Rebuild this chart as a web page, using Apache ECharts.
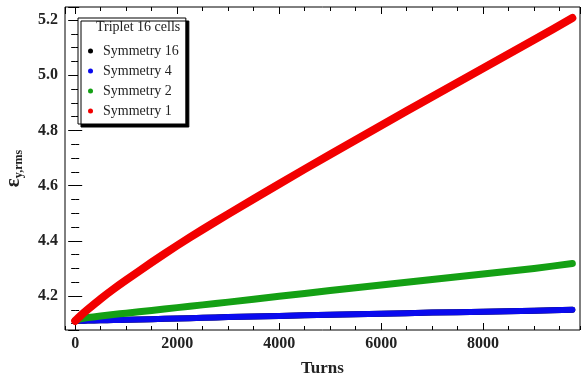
<!DOCTYPE html>
<html>
<head>
<meta charset="utf-8">
<script src="https://cdn.jsdelivr.net/npm/echarts@6/dist/echarts.min.js"></script>
<style>
  html, body { margin: 0; padding: 0; background: #fff; }
  #chart { width: 585px; height: 377px; }
</style>
</head>
<body>
<div id="chart"></div>
<script>
var turns = [0, 100, 250, 500, 750, 1000, 1500, 2000, 2500, 3000, 4000, 5000, 6000, 7000, 8000, 9000, 9750];
var sym16 = [4.11, 4.1105, 4.111, 4.112, 4.113, 4.114, 4.116, 4.119, 4.121, 4.124, 4.128, 4.132, 4.136, 4.14, 4.143, 4.147, 4.15];
var sym4 = [4.11, 4.1105, 4.111, 4.112, 4.113, 4.114, 4.116, 4.119, 4.121, 4.124, 4.128, 4.132, 4.136, 4.14, 4.143, 4.147, 4.15];
var sym2 = [4.11, 4.117, 4.122, 4.128, 4.133, 4.138, 4.148, 4.158, 4.168, 4.178, 4.199, 4.22, 4.24, 4.26, 4.28, 4.30, 4.318];
var sym1 = [4.11, 4.128, 4.152, 4.19, 4.225, 4.258, 4.322, 4.383, 4.441, 4.497, 4.606, 4.713, 4.818, 4.922, 5.025, 5.128, 5.207];
var names = ['Symmetry 16', 'Symmetry 4', 'Symmetry 2', 'Symmetry 1'];
var colors = ['#000000', '#0a0aee', '#14a014', '#f20000'];

function pairs(ys) {
  return turns.map(function (t, i) { return [t, ys[i]]; });
}

var chart = echarts.init(document.getElementById('chart'));
var serif = 'Liberation Serif';
var xMin = -200, xMax = 9900, yMin = 4.077, yMax = 5.247;
var gridPos = { left: 65, right: 5, top: 7, bottom: 47, outerBoundsMode: 'none' };

function xAx(grid, pos, major, labels) {
  return {
    type: 'value', gridIndex: grid, position: pos, min: xMin, max: xMax,
    splitNumber: major ? 5 : 20,
    axisLine: { show: false },
    axisTick: { inside: true, length: major ? 7 : 4, lineStyle: { color: '#000', width: 1 } },
    axisLabel: {
      show: labels, showMinLabel: false, showMaxLabel: false, margin: 6,
      fontFamily: serif, fontWeight: 'bold', fontSize: 16, color: '#222',
      formatter: function (v) { return String(v); }
    },
    splitLine: { show: false }
  };
}
function yAx(grid, pos, major, labels) {
  return {
    type: 'value', gridIndex: grid, position: pos, min: yMin, max: yMax,
    splitNumber: major ? 6 : 23,
    axisLine: { show: false },
    axisTick: { inside: true, length: major ? 7 : 4, lineStyle: { color: '#000', width: 1 } },
    axisLabel: {
      show: labels, showMinLabel: false, showMaxLabel: false, margin: 7,
      fontFamily: serif, fontWeight: 'bold', fontSize: 16, color: '#222',
      formatter: function (v) { return v.toFixed(1); }
    },
    splitLine: { show: false }
  };
}

var xAxes = [xAx(0, 'bottom', true, true), xAx(0, 'top', true, false), xAx(1, 'bottom', false, false), xAx(1, 'top', false, false)];
xAxes[0].name = 'Turns';
xAxes[0].nameLocation = 'middle';
xAxes[0].nameGap = 30;
xAxes[0].nameTextStyle = { fontFamily: serif, fontWeight: 'bold', fontSize: 17, color: '#222' };

var yAxes = [yAx(0, 'left', true, true), yAx(0, 'right', true, false), yAx(1, 'left', false, false), yAx(1, 'right', false, false)];
yAxes[0].name = '{e|ε}{s|y,rms}';
yAxes[0].nameLocation = 'middle';
yAxes[0].nameGap = 40;
yAxes[0].nameMoveOverlap = false;
yAxes[0].nameTextStyle = {
  padding: [0, 0, 0, 0],
  rich: {
    e: { fontFamily: serif, fontWeight: 'bold', fontSize: 21, color: '#222' },
    s: { fontFamily: serif, fontWeight: 'bold', fontSize: 12, color: '#222', padding: [10, 0, 0, 0] }
  }
};

var widths = [6, 6, 7, 8];
var series = names.map(function (n, i) {
  return {
    name: n, type: 'line', xAxisIndex: 0, yAxisIndex: 0,
    data: pairs([sym16, sym4, sym2, sym1][i]),
    smooth: 0.2, showSymbol: false, symbol: 'circle',
    color: colors[i],
    lineStyle: { width: widths[i], color: colors[i], cap: 'round', join: 'round' },
    silent: true, animation: false
  };
});

var option = {
  animation: false,
  grid: [
    Object.assign({ show: true, borderColor: '#000', borderWidth: 1, backgroundColor: 'transparent' }, gridPos),
    Object.assign({ show: false }, gridPos)
  ],
  xAxis: xAxes,
  yAxis: yAxes,
  legend: {
    data: names,
    orient: 'vertical',
    left: 78, top: 18,
    padding: [25, 7, 5, 10],
    itemGap: 4,
    itemWidth: 5, itemHeight: 5,
    icon: 'circle',
    backgroundColor: '#fff',
    borderColor: '#000', borderWidth: 1,
    shadowColor: '#000', shadowBlur: 0, shadowOffsetX: 3, shadowOffsetY: 3,
    selectedMode: false,
    textStyle: { fontFamily: serif, fontSize: 14, color: '#222', padding: [0, 0, 0, 5], lineHeight: 16 }
  },
  graphic: [{
    type: 'text', left: 96, top: 20, z: 100,
    style: { text: 'Triplet 16 cells', fontFamily: serif, fontSize: 14, fill: '#222' }
  }],
  series: series
};
chart.setOption(option);
</script>
</body>
</html>
